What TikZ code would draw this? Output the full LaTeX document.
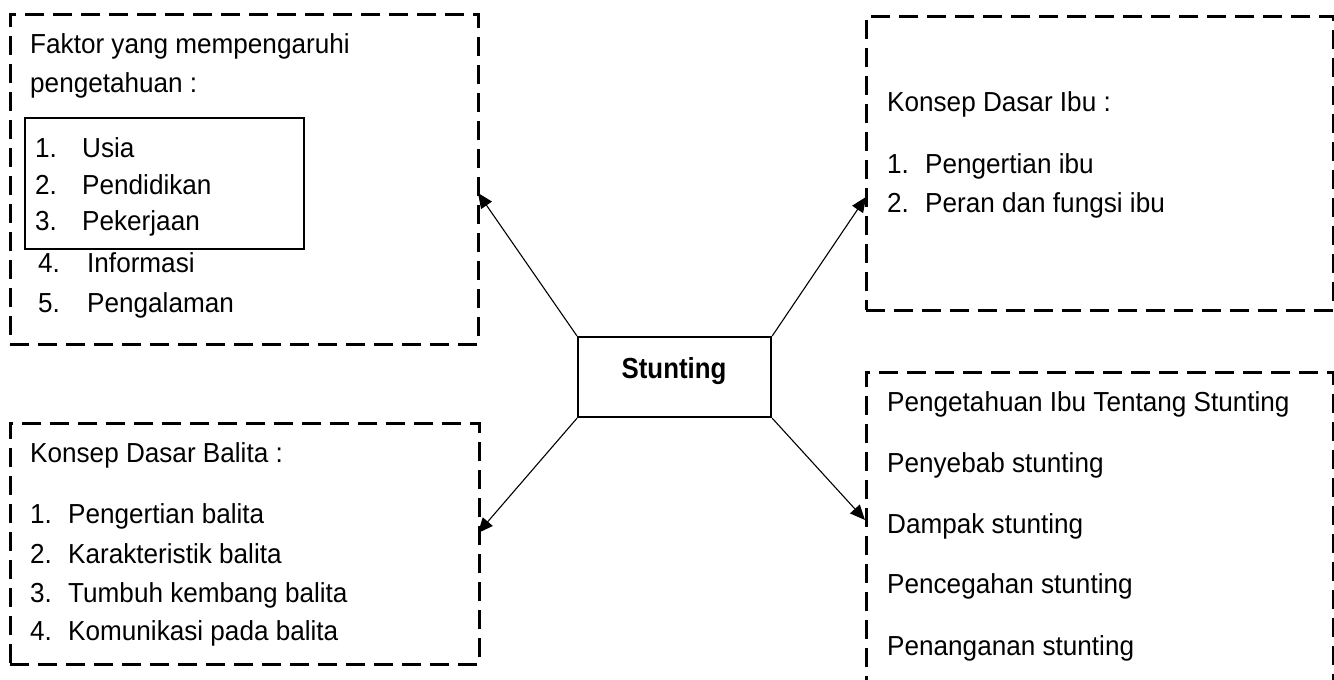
\documentclass[tikz,border=0pt]{standalone}
\usepackage{fontspec}
\setmainfont{Liberation Sans}[FakeStretch=0.95]
\newfontfamily\boldnarrow{Liberation Sans Bold}[FakeStretch=0.89]
\usetikzlibrary{arrows.meta}
\begin{document}
\begin{tikzpicture}[x=1pt,y=-1pt,
  dbox/.style={draw, line width=2.8pt, dash pattern=on 19pt off 9pt, inner sep=0pt, anchor=north west},
  sbox/.style={draw, line width=1.6pt, inner sep=0pt, anchor=north west},
  cbox/.style={draw, line width=2.2pt, inner sep=0pt, anchor=north west},
  txt/.style={anchor=base west, inner sep=0pt, font=\fontsize{27.5}{30}\selectfont},
  arr/.style={line width=1.1pt, -{Triangle[length=15pt,width=13pt]}}]
\useasboundingbox (0,0) rectangle (1334,680);
\clip (0,0) rectangle (1334,680);
% boxes
\node[dbox, minimum width=468pt, minimum height=330pt] (b1) at (9,13) {};
\node[sbox, minimum width=279pt, minimum height=131pt] (inner) at (24,117) {};
\node[dbox, minimum width=467pt, minimum height=294pt] (b2) at (865,15) {};
\node[dbox, minimum width=469pt, minimum height=241pt] (b3) at (9,422) {};
\node[dbox, minimum width=467pt, minimum height=330pt] (b4) at (865,371) {};
\node[cbox, minimum width=193pt, minimum height=80pt] (c) at (577,336) {};
\node[anchor=base, inner sep=0pt, font=\fontsize{29}{32}\boldnarrow] (ct) at (674,378) {Stunting};
% box 1 text
\node[txt] (t1a) at (30,53) {Faktor yang mempengaruhi};
\node[txt] (t1b) at (30,92) {pengetahuan :};
\node[txt] (n11) at (35,157) {1.}; \node[txt] (i11) at (82,157) {Usia};
\node[txt] (n12) at (35,194) {2.}; \node[txt] (i12) at (82,194) {Pendidikan};
\node[txt] (n13) at (35,230) {3.}; \node[txt] (i13) at (82,230) {Pekerjaan};
\node[txt] (n14) at (38,272) {4.}; \node[txt] (i14) at (87,272) {Informasi};
\node[txt] (n15) at (38,312) {5.}; \node[txt] (i15) at (87,312) {Pengalaman};
% box 2 text
\node[txt] (t2) at (887,111) {Konsep Dasar Ibu :};
\node[txt] (n21) at (887,173) {1.}; \node[txt] (i21) at (925,173) {Pengertian ibu};
\node[txt] (n22) at (887,212) {2.}; \node[txt] (i22) at (925,212) {Peran dan fungsi ibu};
% box 3 text
\node[txt] (t3) at (30,462) {Konsep Dasar Balita :};
\node[txt] (n31) at (30,523) {1.}; \node[txt] (i31) at (68,523) {Pengertian balita};
\node[txt] (n32) at (30,563) {2.}; \node[txt] (i32) at (68,563) {Karakteristik balita};
\node[txt] (n33) at (30,602) {3.}; \node[txt] (i33) at (68,602) {Tumbuh kembang balita};
\node[txt] (n34) at (30,640) {4.}; \node[txt] (i34) at (68,640) {Komunikasi pada balita};
% box 4 text
\node[txt] (t4) at (887,411) {Pengetahuan Ibu Tentang Stunting};
\node[txt] (i41) at (887,472) {Penyebab stunting};
\node[txt] (i42) at (887,533) {Dampak stunting};
\node[txt] (i43) at (887,593) {Pencegahan stunting};
\node[txt] (i44) at (887,655) {Penanganan stunting};
% arrow tips
\coordinate (p1) at (478,193);
\coordinate (p2) at (866,197);
\coordinate (p3) at (478,533);
\coordinate (p4) at (865,520);
\draw[arr] (c.north west) -- (p1);
\draw[arr] (c.north east) -- (p2);
\draw[arr] (c.south west) -- (p3);
\draw[arr] (c.south east) -- (p4);
\end{tikzpicture}
\end{document}
